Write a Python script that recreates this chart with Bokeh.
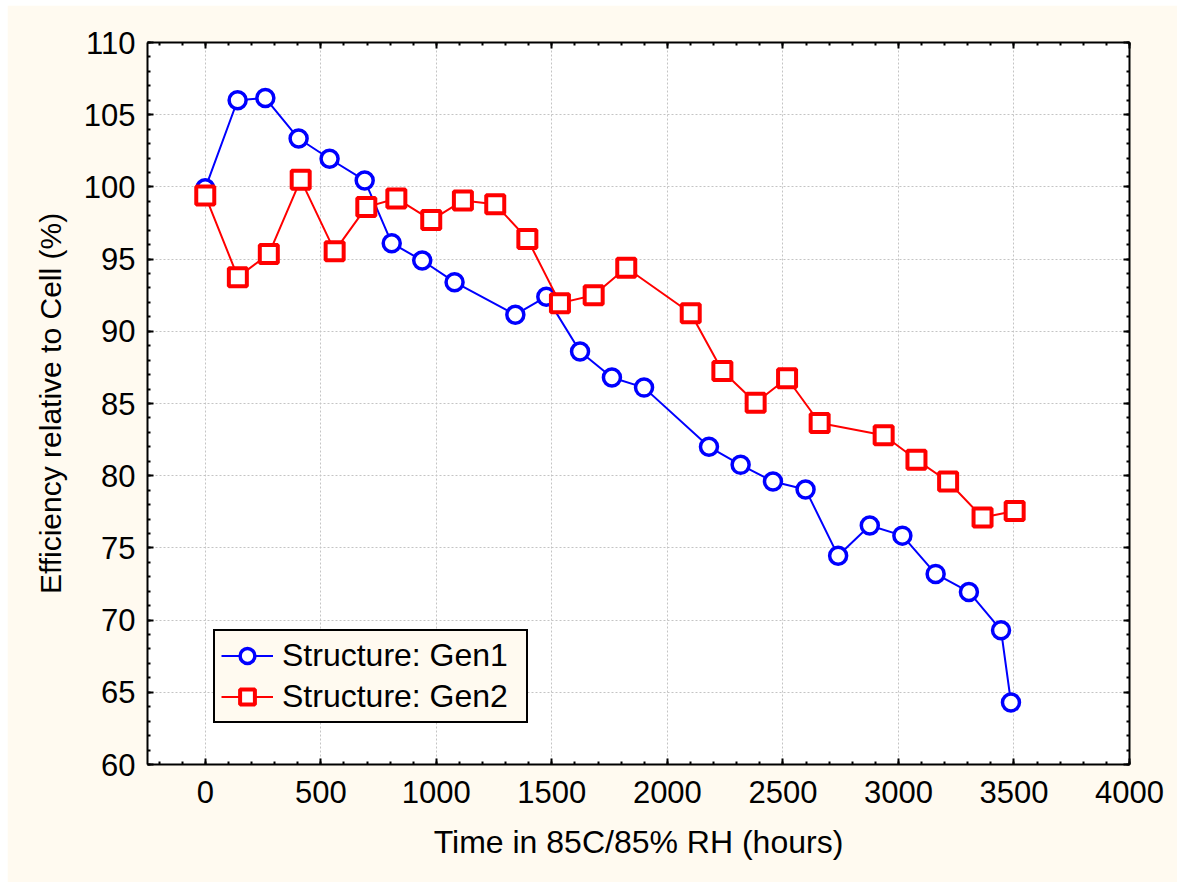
from bokeh.plotting import figure
from bokeh.models import FixedTicker, LinearAxis, Legend, LegendItem, Range1d, Spacer
from bokeh.layouts import row, column
from bokeh.embed import file_html
from bokeh.resources import INLINE

# ---- data ----
gen1_hours = [0, 140, 260, 404, 538, 690, 807, 939, 1079, 1342, 1476, 1622, 1760,
              1899, 2180, 2317, 2457, 2598, 2739, 2876, 3017, 3161, 3305, 3444, 3487]
gen1_eff = [99.9, 106.0, 106.15, 103.35, 101.95, 100.45, 96.1, 94.9, 93.4, 91.15, 92.4,
            88.6, 86.8, 86.1, 82.0, 80.75, 79.6, 79.05, 74.45, 76.55, 75.85, 73.2,
            71.95, 69.3, 64.3]
gen2_hours = [0, 141, 275, 413, 560, 697, 827, 978, 1115, 1255, 1394, 1535, 1681,
              1822, 2101, 2238, 2382, 2518, 2659, 2936, 3078, 3215, 3364, 3503]
gen2_eff = [99.4, 93.75, 95.35, 100.5, 95.55, 98.6, 99.2, 97.7, 99.05, 98.8, 96.4,
            91.95, 92.5, 94.4, 91.25, 87.25, 85.05, 86.75, 83.65, 82.8, 81.1, 79.6,
            77.1, 77.55]
x_ticks = [0, 500, 1000, 1500, 2000, 2500, 3000, 3500, 4000]
x_minor = list(range(-200, 4001, 100))
y_ticks = [60, 65, 70, 75, 80, 85, 90, 95, 100, 105, 110]
y_minor = list(range(60, 111, 1))
series_labels = ["Structure: Gen1", "Structure: Gen2"]
x_title = "Time in 85C/85% RH (hours)"
y_title = "Efficiency relative to Cell (%)"

CREAM = "#FFFAF0"
FONT = "Liberation Sans"

p = figure(width=1170, height=877, output_backend="svg", toolbar_location=None,
           x_range=Range1d(-250, 4000), y_range=Range1d(60, 110),
           x_axis_location=None, y_axis_location=None,
           min_border_left=140, min_border_top=37, min_border_right=48,
           min_border_bottom=118,
           background_fill_color="white", border_fill_color=CREAM,
           outline_line_color=None)

xt = FixedTicker(ticks=x_ticks, minor_ticks=x_minor)
yt = FixedTicker(ticks=y_ticks, minor_ticks=y_minor)


def style_axis(ax, labels=True):
    ax.axis_line_width = 2
    ax.axis_line_color = "black"
    ax.major_tick_in = 6
    ax.major_tick_out = 0
    ax.minor_tick_in = 3
    ax.minor_tick_out = 0
    ax.major_tick_line_width = 2
    ax.minor_tick_line_width = 2
    ax.major_tick_line_color = "black"
    ax.minor_tick_line_color = "black"
    if labels:
        ax.major_label_text_font = FONT
        ax.major_label_text_font_size = "31px"
        ax.major_label_text_color = "black"
        ax.axis_label_text_font = FONT
        ax.axis_label_text_font_size = "30px"
        ax.axis_label_text_font_style = "normal"
        ax.axis_label_text_color = "black"
    else:
        ax.major_label_text_color = None
        ax.major_label_text_font_size = "1px"


bottom = LinearAxis(ticker=xt, axis_label=x_title)
style_axis(bottom)
bottom.axis_label_text_font_size = "32px"
bottom.major_label_standoff = 16
bottom.axis_label_standoff = 18
p.add_layout(bottom, "below")

left = LinearAxis(ticker=yt, axis_label=y_title)
style_axis(left)
left.major_label_standoff = 12
left.axis_label_standoff = 14
p.add_layout(left, "left")

top = LinearAxis(ticker=xt)
style_axis(top, labels=False)
p.add_layout(top, "above")

right = LinearAxis(ticker=yt)
style_axis(right, labels=False)
p.add_layout(right, "right")

p.xgrid.ticker = xt
p.ygrid.ticker = yt
for g in (p.xgrid, p.ygrid):
    g.grid_line_color = "#C4C4C4"
    g.grid_line_dash = "2 2"
    g.grid_line_width = 1

l1 = p.line(gen1_hours, gen1_eff, line_color="#0000FF", line_width=2)
m1 = p.scatter(gen1_hours, gen1_eff, marker="circle", size=17, line_color="#0000FF",
               line_width=3.5, fill_color="white")
l2 = p.line(gen2_hours, gen2_eff, line_color="#FF0000", line_width=2)
m2 = p.scatter(gen2_hours, gen2_eff, marker="square", size=18, line_color="#FF0000",
               line_width=4, fill_color="white")

legend = Legend(items=[LegendItem(label=series_labels[0], renderers=[l1, m1]),
                       LegendItem(label=series_labels[1], renderers=[l2, m2])],
                location=(66, 41))
legend.label_text_font = FONT
legend.label_text_font_size = "32px"
legend.label_text_color = "black"
legend.glyph_width = 52
legend.glyph_height = 37
legend.label_height = 37
legend.label_width = 238
legend.label_standoff = 9
legend.spacing = 4
legend.padding = 6
legend.margin = 0
legend.border_line_color = "black"
legend.border_line_alpha = 1
legend.border_line_width = 2
legend.background_fill_color = CREAM
legend.background_fill_alpha = 1
p.add_layout(legend, "center")

layout = column(Spacer(height=5), row(Spacer(width=7), p))
open("out.html", "w").write(file_html(layout, INLINE))
